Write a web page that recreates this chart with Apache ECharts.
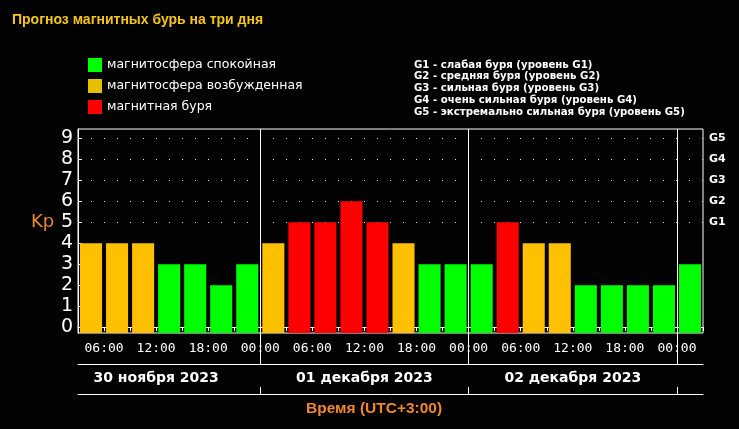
<!DOCTYPE html>
<html>
<head>
<meta charset="utf-8">
<script src="https://cdn.jsdelivr.net/npm/echarts@6/dist/echarts.min.js"></script>
<style>
    html, body { margin: 0; padding: 0; background: #020202; }
    #chart { width: 739px; height: 429px; }
</style>
</head>
<body>
<div id="chart"></div>
<script>
// прогноз Kp по трёхчасовым интервалам (UTC+3)
const slots = ['03-06', '06-09', '09-12', '12-15', '15-18', '18-21', '21-24',
    '00-03', '03-06', '06-09', '09-12', '12-15', '15-18', '18-21', '21-24',
    '00-03', '03-06', '06-09', '09-12', '12-15', '15-18', '18-21', '21-24',
    '00-03']
const kpValues = [4, 4, 4, 3, 3, 2, 3,
    4, 5, 5, 6, 5, 4, 3, 3,
    3, 5, 4, 4, 2, 2, 2, 2,
    3]

const timeLabels = ['06:00', '12:00', '18:00', '00:00', '06:00', '12:00', '18:00', '00:00', '06:00', '12:00', '18:00', '00:00']
const timePositions = [1, 3, 5, 7, 9, 11, 13, 15, 17, 19, 21, 23]
const dayLabels = ['30 ноября 2023', '01 декабря 2023', '02 декабря 2023']
const dayCenters = [3, 11, 19]
const dayBounds = [7, 15, 23]
const kpTicks = [0, 1, 2, 3, 4, 5, 6, 7, 8, 9]
const gLabels = ['G1', 'G2', 'G3', 'G4', 'G5']
const gLevels = [5, 6, 7, 8, 9]

const legendNames = ['магнитосфера спокойная', 'магнитосфера возбужденная', 'магнитная буря']
const legendColors = ['#00ff00', '#e6c000', '#ff0000']
const barColors = ['#00ff00', '#ffc000', '#ff0000']

const Y_MIN = -0.28
const Y_MAX = 9.45

function kpColor (v) {
    if (v >= 5) return barColors[2]
    if (v >= 4) return barColors[1]
    return barColors[0]
}

let myCharts = echarts.init(document.getElementById('chart'))

let valueX = {
    type: 'value',
    min: 0,
    max: 24,
    position: 'bottom',
    splitLine: { show: false },
    axisLine: { lineStyle: { color: '#fff', width: 1 } }
}

let option = {
    backgroundColor: '#020202',
    animation: false,
    title: {
        text: 'Прогноз магнитных бурь на три дня',
        left: 12,
        top: 13,
        padding: 0,
        textStyle: {
            color: '#f5c518',
            fontSize: 14,
            fontWeight: 'bold',
            fontFamily: 'Liberation Sans'
        }
    },
    legend: {
        data: legendNames,
        orient: 'vertical',
        left: 88,
        top: 58,
        padding: 0,
        icon: 'rect',
        itemWidth: 14,
        itemHeight: 14,
        itemGap: 7,
        selectedMode: false,
        textStyle: {
            color: '#fff',
            fontSize: 12.5,
            fontFamily: 'DejaVu Sans'
        }
    },
    grid: {
        left: 78,
        right: 36,
        top: 129,
        bottom: 96,
        show: true,
        borderColor: '#fff',
        borderWidth: 1
    },
    xAxis: [
        { type: 'category', data: slots, show: false },
        Object.assign({}, valueX, {
            interval: 1,
            axisTick: { show: true, inside: false, length: 4, lineStyle: { color: '#fff' } },
            axisLabel: {
                customValues: timePositions,
                formatter: v => timeLabels[timePositions.indexOf(v)],
                color: '#fff',
                fontSize: 13,
                fontFamily: 'DejaVu Sans Mono',
                margin: 9
            }
        }),
        Object.assign({}, valueX, {
            offset: 31,
            axisTick: { show: true, customValues: dayBounds, inside: true, length: 31, lineStyle: { color: '#fff' } },
            axisLabel: {
                customValues: dayCenters,
                formatter: v => dayLabels[dayCenters.indexOf(v)],
                color: '#fff',
                fontSize: 14,
                fontWeight: 'bold',
                fontFamily: 'DejaVu Sans',
                margin: 7
            }
        }),
        Object.assign({}, valueX, {
            offset: 61,
            axisTick: { show: true, customValues: dayBounds, inside: true, length: 7, lineStyle: { color: '#fff' } },
            axisLabel: { show: false }
        })
    ],
    yAxis: [
        {
            type: 'value',
            min: Y_MIN,
            max: Y_MAX,
            position: 'left',
            splitLine: { show: false },
            axisLine: { show: true, lineStyle: { color: '#fff' } },
            axisTick: { show: false },
            axisLabel: {
                customValues: kpTicks,
                color: '#fff',
                fontSize: 19,
                fontFamily: 'DejaVu Sans',
                margin: 5
            }
        },
        {
            type: 'value',
            min: Y_MIN,
            max: Y_MAX,
            position: 'right',
            splitLine: { show: false },
            axisLine: { show: true, lineStyle: { color: '#fff' } },
            axisTick: { show: true, customValues: kpTicks, length: 4, lineStyle: { color: '#fff' } },
            axisLabel: {
                customValues: gLevels,
                formatter: v => gLabels[gLevels.indexOf(v)],
                color: '#fff',
                fontSize: 11,
                fontWeight: 'bold',
                fontFamily: 'DejaVu Sans',
                margin: 6
            }
        }
    ],
    graphic: [
        {
            type: 'text',
            left: 31,
            top: 213,
            style: { text: 'Kp', fill: '#e8882a', fontSize: 18, fontFamily: 'DejaVu Sans' }
        },
        {
            type: 'text',
            left: 414,
            top: 59,
            style: {
                text: [
                    'G1 - слабая буря (уровень G1)',
                    'G2 - средняя буря (уровень G2)',
                    'G3 - сильная буря (уровень G3)',
                    'G4 - очень сильная буря (уровень G4)',
                    'G5 - экстремально сильная буря (уровень G5)'
                ].join('\n'),
                fill: '#fff',
                fontSize: 10.2,
                fontWeight: 'bold',
                lineHeight: 11.9,
                fontFamily: 'DejaVu Sans'
            }
        },
        {
            type: 'text',
            left: 306,
            top: 401,
            style: {
                text: 'Время (UTC+3:00)',
                fill: '#f0882a',
                fontSize: 15.5,
                fontWeight: 'bold',
                fontFamily: 'Liberation Sans'
            }
        }
    ],
    series: [
        {
            // сетка уровней G и разделители суток
            type: 'line',
            xAxisIndex: 1,
            yAxisIndex: 0,
            data: kpValues.map((v, i) => [i + 0.5, v]),
            symbol: 'none',
            silent: true,
            lineStyle: { opacity: 0 },
            z: 1,
            markLine: {
                silent: true,
                symbol: 'none',
                label: { show: false },
                data: gLevels.map(g => ({ yAxis: g, lineStyle: { color: '#ddd', type: [1, 12], width: 1 } }))
                    .concat(dayBounds.map(d => ({ xAxis: d, lineStyle: { color: '#fff', type: 'solid', width: 1 } })))
            }
        },
        {
            name: 'Kp',
            type: 'custom',
            xAxisIndex: 0,
            yAxisIndex: 0,
            z: 5,
            data: kpValues.map((v, i) => [i, v]),
            renderItem: function (params, api) {
                let top = api.coord([api.value(0), api.value(1)])
                let base = api.coord([api.value(0), Y_MIN])
                let w = api.size([1, 0])[0] - 4
                return {
                    type: 'rect',
                    shape: { x: top[0] - w / 2, y: top[1], width: w, height: base[1] - top[1] },
                    style: { fill: kpColor(api.value(1)) }
                }
            }
        }
    ].concat(legendNames.map((n, i) => ({
        name: n,
        type: 'bar',
        xAxisIndex: 0,
        data: [],
        itemStyle: { color: legendColors[i] }
    })))
}

myCharts.setOption(option)
</script>
</body>
</html>
